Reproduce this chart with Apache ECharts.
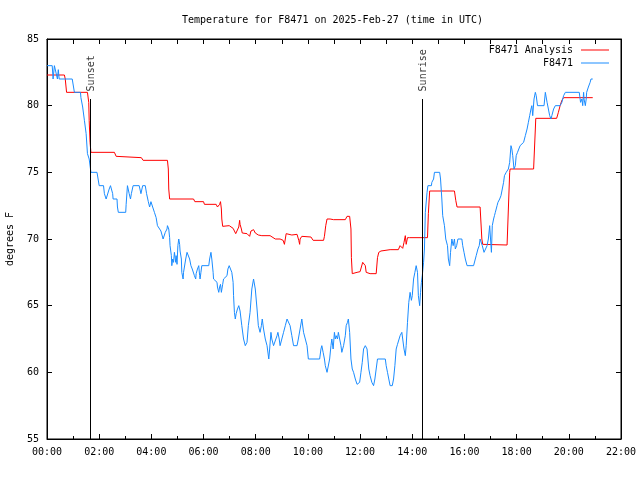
<!DOCTYPE html>
<html><head><meta charset="utf-8">
<script src="https://cdn.jsdelivr.net/npm/echarts@6/dist/echarts.min.js"></script>
<style>html,body{margin:0;padding:0;background:#fff}#c{width:640px;height:480px}</style>
</head><body><div id="c"></div>
<script>
const titleText = 'Temperature for F8471 on 2025-Feb-27 (time in UTC)';
const yAxisName = 'degrees F';
const xTickLabels = ['00:00','02:00','04:00','06:00','08:00','10:00','12:00','14:00','16:00','18:00','20:00','22:00'];
const yTickLabels = ['55','60','65','70','75','80','85'];
const eventNames = ['Sunset', 'Sunrise'];
const eventTimes = [100, 864]; // minutes after 00:00 UTC

const analysisName = 'F8471 Analysis';
const analysisTimes = [0,40,42,45,93,96,97,99,101,155,159,217,221,277,279,280,282,337,340,360,362,389,392,395,397,399,401,402,404,419,423,428,431,434,438,441,443,444,447,449,460,463,466,469,471,475,479,483,486,494,513,517,525,536,543,546,548,550,553,563,575,577,579,581,582,586,590,607,612,636,638,641,644,647,651,659,686,690,696,699,700,702,713,720,723,726,729,732,734,737,743,757,760,763,768,772,789,793,808,812,815,818,821,824,826,829,831,834,875,877,880,937,940,943,996,1000,1002,1058,1061,1064,1065,1119,1123,1124,1172,1176,1180,1184,1188,1255];
const analysisTemps = [82.3,82.3,82.0,81.0,81.0,80.25,78.9,77.25,76.5,76.5,76.2,76.1,75.9,75.9,75.25,73.75,73.0,73.0,72.8,72.8,72.6,72.6,72.4,72.25,72.6,72.8,72.25,71.5,70.95,71.0,70.85,70.8,70.6,70.4,70.45,70.9,71.4,71.1,70.75,70.45,70.4,70.3,70.2,70.6,70.75,70.7,70.45,70.35,70.3,70.25,70.25,70.1,70.0,70.0,69.9,69.6,70.0,70.4,70.25,70.3,70.35,70.2,69.9,69.6,70.0,70.2,70.15,70.15,69.9,69.9,70.2,71.0,71.5,71.6,71.5,71.45,71.45,71.7,71.7,70.75,68.6,67.4,67.5,67.55,67.5,68.25,68.3,68.0,67.5,67.45,67.4,67.4,68.6,69.0,69.1,69.25,69.2,69.1,69.2,69.5,69.6,69.3,69.75,70.25,69.6,70.1,70.0,70.1,70.1,71.9,73.6,73.6,72.9,72.4,72.4,70.0,69.6,69.55,72.25,75.0,75.25,75.25,78.25,79.05,79.05,79.5,80.0,80.4,80.6,80.6];

const obsName = 'F8471';
const obsTimes = [0,12,14,17,21,24,26,28,58,63,77,78,82,86,90,92,93,97,100,101,115,120,130,132,136,139,143,146,149,151,152,161,162,164,181,182,185,189,192,194,198,212,216,220,226,229,233,236,239,243,247,251,254,258,262,267,270,272,276,277,280,282,283,286,287,289,291,293,296,297,299,301,303,305,306,309,310,313,314,316,319,322,326,328,331,334,337,339,342,343,346,349,351,352,354,356,372,374,377,379,382,383,387,391,392,395,397,399,401,404,406,410,414,416,419,423,425,428,429,431,433,435,438,441,443,444,448,452,456,460,463,467,471,475,479,483,486,490,493,495,498,502,506,510,512,515,517,521,525,529,531,534,536,540,544,548,552,555,559,563,567,575,578,582,586,590,594,598,601,627,630,632,635,638,640,644,647,650,653,655,658,661,663,665,668,670,673,676,678,682,686,688,691,693,696,699,702,705,709,713,716,719,722,725,728,732,736,738,740,743,747,751,754,757,760,778,780,783,786,789,794,797,800,803,806,809,812,816,818,821,824,826,829,832,835,838,840,843,846,849,852,854,857,859,861,863,866,868,870,874,876,884,885,889,891,903,905,908,910,914,917,921,923,926,928,931,934,937,939,942,945,954,956,959,962,966,981,985,987,991,994,996,998,1001,1005,1009,1012,1015,1018,1020,1022,1024,1027,1029,1031,1035,1037,1041,1044,1047,1050,1052,1056,1058,1061,1064,1067,1069,1071,1074,1077,1079,1082,1085,1088,1092,1096,1100,1104,1107,1110,1113,1115,1117,1120,1123,1125,1128,1143,1146,1150,1153,1156,1159,1161,1165,1169,1180,1184,1188,1192,1224,1227,1230,1232,1234,1235,1238,1240,1241,1245,1249,1251,1255];
const obsTemps = [83,83,82,83,83,82,82.7,82,82,81,81,80.6,79.9,78.9,77.9,76.9,76.4,76,76,75,75,74,74,73.4,73,73,73.75,74,74,73.4,73,73,72.4,72,72,72.6,74,73.4,73,73.4,74,74,73.4,74,74,73.4,72.8,72.4,72.8,72.4,72,71.6,71,71,70.6,70,70,70.5,70.75,71,70.75,70.1,69.5,68.75,68,68.5,68.25,69,68.25,68.75,68.1,69.5,70,69.6,69.1,68.5,67.5,67,67.5,67.9,68.5,69,69,68.5,68,67.75,67.75,67.25,67,67.4,67.75,68,67.25,67,67.5,68,68,68.5,69,68.5,67.5,67,67,66.75,66.4,66,66.4,66.6,66,66.6,67,67,67.25,67.75,68,68,67.5,66.75,65.75,64.5,64,64.4,64.75,65,65,64.6,63.5,62.5,62,62.25,63.5,64.5,66.25,67,66.25,64.75,63.5,63,63.5,64,63.25,62.5,62,61,61.75,63,62.5,62,62,62.75,63,62.5,62,62.5,63,63.5,64,64,63.5,62.75,62,62,62.5,63.25,64,63,62.5,62,61,61,61.75,62,61.5,61,60.5,60,60,61,62,62.5,61.75,63,62.5,62.75,62.5,63,62.5,62,61.5,62,62.75,63.5,63.75,64,63,61,60.25,60,59.5,59.1,59,59.25,60,60.75,61.75,62,61.75,61,60.25,59.75,59.25,59,59.5,60.25,61,61,60.5,60,59.5,59,59,59.5,60.5,61.75,62.1,62.25,62.75,63,62.5,61.75,61.25,62,63.75,65.25,66,65.4,65.75,67,67.5,68,67.5,65.75,65,66,66.75,67.25,68.25,69.25,72,73.5,74,74,74.25,74.5,75,75,74.5,73,71.75,71,70,69.5,68.5,68,69,70,69.5,70,69.25,69.5,70,70,69.5,69,68.5,68,68,68.5,68.75,69.25,69.5,70,70,69.5,69,69,69.5,70,71,70,69,71,71.5,71.75,72,72.5,72.75,73,73.25,73.75,74.25,74.75,75,75,75.25,75.75,77,76.75,76.25,75.25,75.5,76.25,76.5,76.75,77,77,77.25,77.75,78.25,78.75,79.25,79.75,80,79.25,80.5,81,80.75,80,80,81,80.25,79.75,79.25,79,79.25,79.75,80,80,80.25,80.75,81,81,80.25,80.5,80,81,80.5,80,80.5,81,81.4,81.75,82,82];

const FONT = 'DejaVu Sans Mono';
const RED = '#ff0000';
const BLUE = '#1a8cff';
const eventLineTop = 80.5;   // where the event marker lines end
const eventLabelAt = 81.07;  // anchor of event label text
const yMin = 55, yMax = 85, yStep = 5;
const xMin = 0, xMax = 1320, xStep = 120;

const zip = (a, b) => a.map((v, i) => [v, b[i]]);

const chart = echarts.init(document.getElementById('c'), null, {renderer: 'canvas'});

const baseX = {
  type: 'value', min: xMin, max: xMax, interval: xStep,
  axisLine: {show: true, onZero: false, lineStyle: {color: '#000', width: 1}},
  axisTick: {show: true, inside: true, length: 5, lineStyle: {color: '#000', width: 1}},
  minorTick: {show: true, splitNumber: 2, length: 3, lineStyle: {color: '#000', width: 1}},
  splitLine: {show: false},
  minorSplitLine: {show: false}
};
const baseY = {
  type: 'value', min: yMin, max: yMax, interval: yStep,
  axisLine: {show: true, onZero: false, lineStyle: {color: '#000', width: 1}},
  axisTick: {show: true, inside: true, length: 5, lineStyle: {color: '#000', width: 1}},
  splitLine: {show: false}
};
const legendText = {fontFamily: FONT, fontSize: 10, color: '#000', padding: [0, 3, 0, 0], lineHeight: 12};

chart.setOption({
  animation: false,
  backgroundColor: '#fff',
  textStyle: {fontFamily: FONT},
  title: {
    text: titleText, left: 177, top: 10,
    textStyle: {fontFamily: FONT, fontSize: 10, fontWeight: 'normal', color: '#000'}
  },
  legend: [
    {data: [analysisName], orient: 'vertical', align: 'right', right: 31, top: 44, padding: 0,
     icon: 'rect', itemWidth: 28, itemHeight: 1, textStyle: legendText},
    {data: [obsName], orient: 'vertical', align: 'right', right: 31, top: 57, padding: 0,
     icon: 'rect', itemWidth: 28, itemHeight: 1, textStyle: legendText}
  ],
  grid: {left: 47, right: 19, top: 39, bottom: 41, outerBoundsMode: 'none', containLabel: false,
         show: true, borderColor: '#000', borderWidth: 1, backgroundColor: 'transparent'},
  xAxis: [
    Object.assign({}, baseX, {position: 'bottom',
      axisLabel: {show: true, margin: 8, color: '#000', fontFamily: FONT, fontSize: 10,
        formatter: v => xTickLabels[Math.round((v - xMin) / xStep)] || ''}}),
    Object.assign({}, baseX, {position: 'top',
      minorTick: {show: true, splitNumber: 2, length: 5, lineStyle: {color: '#000', width: 1}},
      axisLabel: {show: false}})
  ],
  yAxis: [
    Object.assign({}, baseY, {position: 'left',
      name: yAxisName, nameLocation: 'middle', nameGap: 32, nameRotate: 90,
      nameTextStyle: {fontFamily: FONT, fontSize: 10, color: '#000'},
      axisLabel: {show: true, margin: 8, color: '#000', fontFamily: FONT, fontSize: 10,
        formatter: v => yTickLabels[Math.round((v - yMin) / yStep)] || ''}}),
    Object.assign({}, baseY, {position: 'right', axisLabel: {show: false}})
  ],
  series: [
    {
      name: analysisName, type: 'line', data: zip(analysisTimes, analysisTemps),
      showSymbol: false, symbol: 'none', smooth: false,
      lineStyle: {color: RED, width: 1}, itemStyle: {color: RED}, z: 3
    },
    {
      name: obsName, type: 'line', data: zip(obsTimes, obsTemps),
      showSymbol: false, symbol: 'none', smooth: false,
      lineStyle: {color: BLUE, width: 1}, itemStyle: {color: BLUE}, z: 4
    },
    {
      name: 'events', type: 'scatter', symbolSize: 0,
      data: eventTimes.map((t, i) => [t, eventLabelAt, eventNames[i]]),
      itemStyle: {color: 'rgba(0,0,0,0)'},
      label: {show: true, formatter: p => p.data[2], position: [1, 0], rotate: 90,
        align: 'left', verticalAlign: 'middle', color: '#000', fontFamily: FONT, fontSize: 10},
      markLine: {
        silent: true, symbol: ['none', 'none'], animation: false,
        label: {show: false},
        lineStyle: {color: '#000', width: 1, type: 'solid'},
        data: eventTimes.map(t => [{coord: [t, eventLineTop]}, {coord: [t, yMin]}])
      },
      z: 5
    }
  ]
});
</script></body></html>
